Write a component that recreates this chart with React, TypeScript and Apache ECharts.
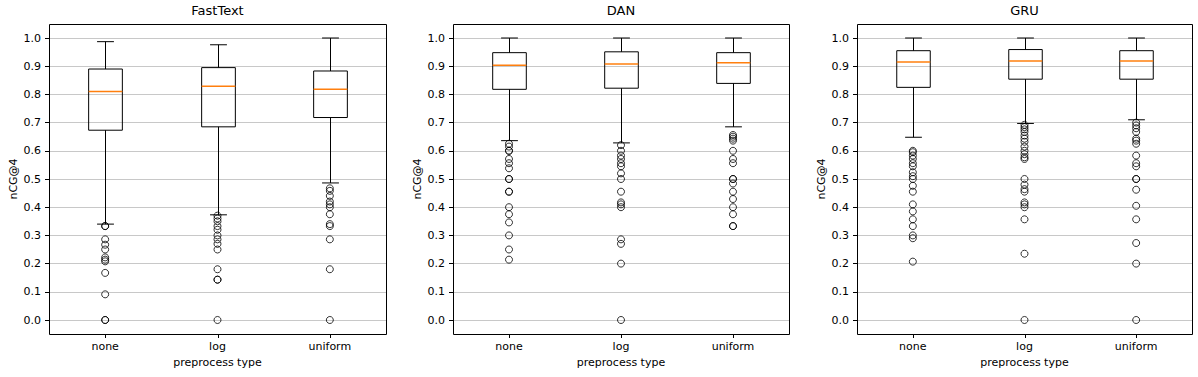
import React, { useEffect, useRef } from "react";
import * as echarts from "echarts";

const categories = ["none", "log", "uniform"];
const panelTitles = ["FastText", "DAN", "GRU"];
const yAxisLabel = "nCG@4";
const xAxisLabel = "preprocess type";

// [lower whisker, Q1, median, Q3, upper whisker]
const fastTextBoxes = [
  [0.34, 0.673, 0.81, 0.89, 0.987],
  [0.373, 0.685, 0.829, 0.895, 0.976],
  [0.486, 0.718, 0.818, 0.883, 1.0],
];
const danBoxes = [
  [0.636, 0.818, 0.903, 0.948, 1.0],
  [0.628, 0.822, 0.908, 0.951, 1.0],
  [0.685, 0.839, 0.912, 0.948, 1.0],
];
const gruBoxes = [
  [0.648, 0.825, 0.915, 0.955, 1.0],
  [0.697, 0.854, 0.918, 0.959, 1.0],
  [0.71, 0.854, 0.918, 0.955, 1.0],
];

const fastTextOutliers = [
  [0.333, 0.333, 0.286, 0.267, 0.25, 0.222, 0.214, 0.208, 0.167, 0.091, 0, 0],
  [0.37, 0.36, 0.35, 0.333, 0.32, 0.3, 0.286, 0.27, 0.25, 0.18, 0.143, 0.143, 0],
  [0.467, 0.458, 0.44, 0.42, 0.41, 0.4, 0.375, 0.34, 0.333, 0.286, 0.18, 0],
];
const danOutliers = [
  [0.625, 0.615, 0.6, 0.6, 0.571, 0.556, 0.538, 0.5, 0.5, 0.455, 0.455, 0.4, 0.375, 0.346, 0.3, 0.25, 0.214],
  [0.62, 0.6, 0.583, 0.571, 0.556, 0.545, 0.52, 0.5, 0.455, 0.417, 0.41, 0.4, 0.286, 0.27, 0.2, 0],
  [0.656, 0.65, 0.643, 0.636, 0.6, 0.571, 0.556, 0.5, 0.5, 0.484, 0.455, 0.429, 0.4, 0.375, 0.333, 0.333],
];
const gruOutliers = [
  [0.6, 0.595, 0.583, 0.571, 0.556, 0.545, 0.524, 0.51, 0.5, 0.476, 0.455, 0.41, 0.385, 0.357, 0.333, 0.3, 0.29, 0.207],
  [0.692, 0.684, 0.676, 0.667, 0.654, 0.643, 0.632, 0.615, 0.6, 0.588, 0.577, 0.571, 0.5, 0.48, 0.464, 0.455, 0.417, 0.41, 0.4, 0.357, 0.235, 0],
  [0.7, 0.69, 0.68, 0.667, 0.643, 0.636, 0.625, 0.583, 0.556, 0.545, 0.5, 0.5, 0.462, 0.405, 0.357, 0.273, 0.2, 0],
];

const allBoxes = [fastTextBoxes, danBoxes, gruBoxes];
const allOutliers = [fastTextOutliers, danOutliers, gruOutliers];

const FONT = "DejaVu Sans";
const panelLefts = [49, 453, 857];
const panelWidths = [337, 336, 335];
const frameTop = 24;
const frameHeight = 310;
const dataTop = 38;
const dataHeight = 282;
const frameBottom = frameTop + frameHeight;

const renderBox = (params: any, api: any) => {
  const idx = api.value(0);
  const lo = api.coord([idx, api.value(1)]);
  const q1 = api.coord([idx, api.value(2)]);
  const med = api.coord([idx, api.value(3)]);
  const q3 = api.coord([idx, api.value(4)]);
  const hi = api.coord([idx, api.value(5)]);
  const band = api.size([1, 0])[0];
  const bw = band * 0.3;
  const cw = bw / 2;
  const cx = Math.round(lo[0]) + 0.5;
  const st = { stroke: "#000", lineWidth: 1, fill: "none" };
  return {
    type: "group",
    children: [
      { type: "rect", shape: { x: cx - bw / 2, y: q3[1], width: bw, height: q1[1] - q3[1] }, style: st },
      { type: "line", shape: { x1: cx, y1: q1[1], x2: cx, y2: lo[1] }, style: st },
      { type: "line", shape: { x1: cx, y1: q3[1], x2: cx, y2: hi[1] }, style: st },
      { type: "line", shape: { x1: cx - cw / 2, y1: lo[1], x2: cx + cw / 2, y2: lo[1] }, style: st },
      { type: "line", shape: { x1: cx - cw / 2, y1: hi[1], x2: cx + cw / 2, y2: hi[1] }, style: st },
      { type: "line", shape: { x1: cx - bw / 2, y1: med[1], x2: cx + bw / 2, y2: med[1] }, style: { stroke: "#ff7f0e", lineWidth: 1.5 } },
      // x-axis tick mark below the frame
      { type: "line", shape: { x1: cx, y1: frameBottom, x2: cx, y2: frameBottom + 4 }, style: st },
    ],
  };
};

export default function App() {
  const ref = useRef<HTMLDivElement>(null);
  useEffect(() => {
    if (!ref.current) return;
    const chart = echarts.init(ref.current, null, { renderer: "svg" });
    const grids: any[] = [];
    const xAxes: any[] = [];
    const yAxes: any[] = [];
    const series: any[] = [];
    const titles: any[] = [];
    const graphics: any[] = [];
    for (let p = 0; p < 3; p++) {
      grids.push({ left: panelLefts[p], top: dataTop, width: panelWidths[p], height: dataHeight });
      titles.push({
        text: panelTitles[p],
        left: panelLefts[p] + panelWidths[p] / 2,
        top: 4,
        textAlign: "center",
        padding: 0,
        textStyle: { fontFamily: FONT, fontSize: 13, fontWeight: "normal", color: "#000" },
      });
      xAxes.push({
        type: "category",
        gridIndex: p,
        data: categories,
        offset: frameBottom - (dataTop + dataHeight),
        axisLine: { show: false },
        axisTick: { show: false },
        axisLabel: { fontFamily: FONT, fontSize: 11, color: "#000", margin: 7 },
        name: xAxisLabel,
        nameLocation: "middle",
        nameGap: 23,
        nameTextStyle: { fontFamily: FONT, fontSize: 11, color: "#000" },
        splitLine: { show: false },
      });
      yAxes.push({
        type: "value",
        gridIndex: p,
        min: 0,
        max: 1,
        interval: 0.1,
        axisLine: { show: false },
        axisTick: { show: true, length: 4, lineStyle: { color: "#000" } },
        axisLabel: { fontFamily: FONT, fontSize: 11, color: "#000", margin: 8, formatter: (v: number) => v.toFixed(1) },
        splitLine: { show: true, lineStyle: { color: "#c8c8c8", width: 1 } },
        name: yAxisLabel,
        nameLocation: "middle",
        nameGap: 30,
        nameTextStyle: { fontFamily: FONT, fontSize: 11, color: "#000" },
      });
      series.push({
        type: "custom",
        xAxisIndex: p,
        yAxisIndex: p,
        renderItem: renderBox,
        encode: { x: 0, y: [1, 2, 3, 4, 5] },
        data: allBoxes[p].map((b, i) => [i, ...b]),
        clip: false,
        z: 3,
      });
      const pts: number[][] = [];
      allOutliers[p].forEach((arr, i) => arr.forEach((v) => pts.push([i, v])));
      series.push({
        type: "scatter",
        xAxisIndex: p,
        yAxisIndex: p,
        symbol: "circle",
        symbolSize: 7,
        clip: false,
        itemStyle: { color: "rgba(0,0,0,0)", borderColor: "#000", borderWidth: 1 },
        data: pts,
        z: 4,
      });
      graphics.push({
        type: "rect",
        shape: { x: panelLefts[p] + 0.5, y: frameTop + 0.5, width: panelWidths[p], height: frameHeight },
        style: { fill: "none", stroke: "#000", lineWidth: 1 },
        z: 10,
        silent: true,
      });
    }
    chart.setOption({
      animation: false,
      backgroundColor: "#fff",
      title: titles,
      grid: grids,
      xAxis: xAxes,
      yAxis: yAxes,
      series,
      graphic: graphics,
    });
    return () => chart.dispose();
  }, []);
  return <div ref={ref} style={{ position: "fixed", left: 0, top: 0, width: 1198, height: 377 }} />;
}
